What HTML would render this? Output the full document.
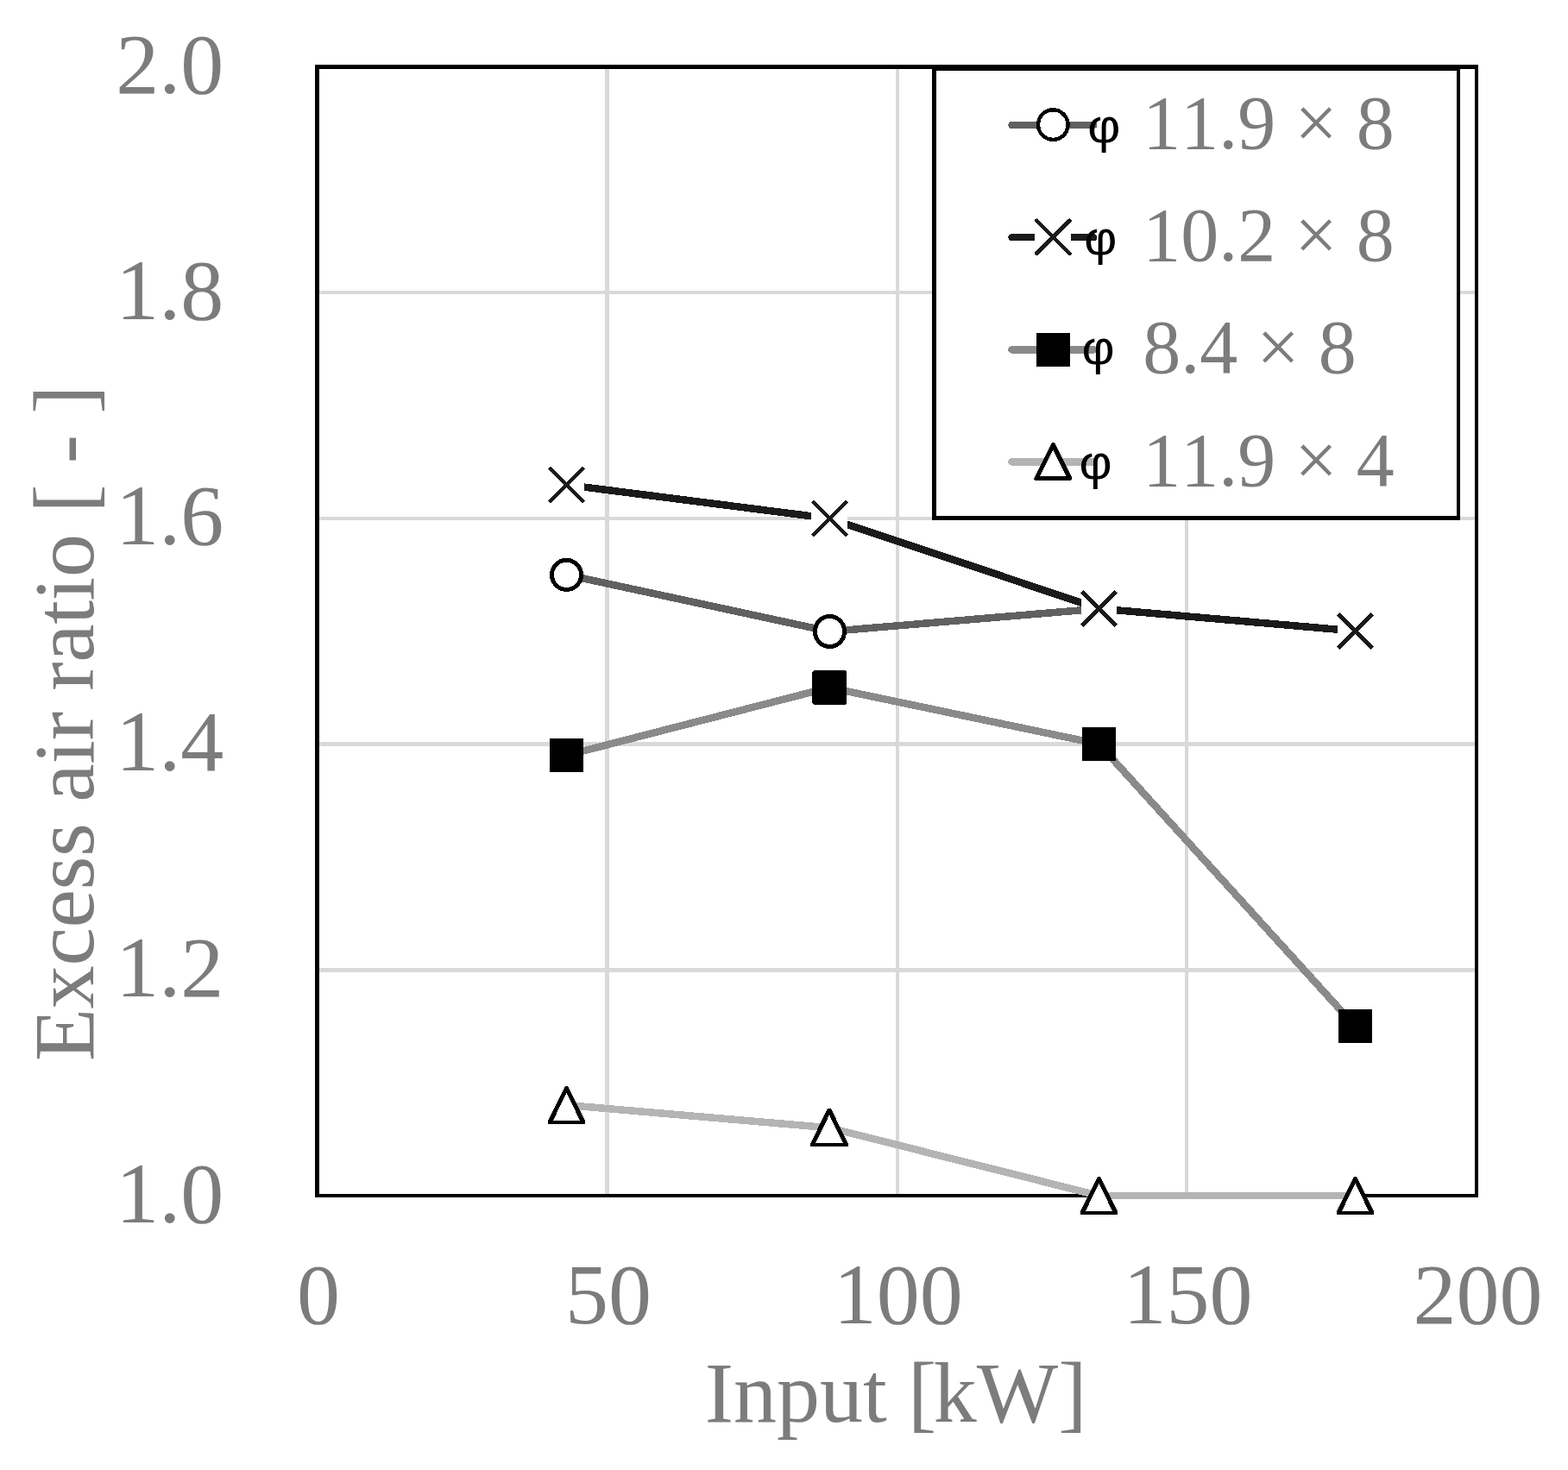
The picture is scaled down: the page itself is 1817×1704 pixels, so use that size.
<!DOCTYPE html>
<html lang="en">
<head>
<meta charset="utf-8">
<title>Excess air ratio vs. input</title>
<style>
html,body{margin:0;padding:0;background:#fff;}
body{width:1817px;height:1704px;overflow:hidden;}
svg{display:block;}
text{font-kerning:none;}
.t{font-family:'Liberation Serif', 'Times New Roman', serif;font-size:100px;fill:#7c7c7c;}
.l{font-family:'Liberation Serif', 'Times New Roman', serif;font-size:88px;fill:#7c7c7c;}
.p{font-family:'Liberation Sans', Arial, sans-serif;font-size:54.7px;fill:#000;}
</style>
</head>
<body>
<svg width="1817" height="1704" viewBox="0 0 1817 1704" role="img" aria-label="Excess air ratio versus input">
<rect x="0" y="0" width="1817" height="1704" fill="#fff"/>
<g fill="#d9d9d9" shape-rendering="crispEdges">
<rect x="370" y="337" width="1339" height="4"/>
<rect x="370" y="599" width="1339" height="4"/>
<rect x="370" y="860" width="1339" height="5"/>
<rect x="370" y="1122" width="1339" height="5"/>
<rect x="701" y="80" width="5" height="1304"/>
<rect x="1038" y="80" width="4" height="1304"/>
<rect x="1373" y="80" width="4" height="1304"/>
</g>
<g fill="#000" shape-rendering="crispEdges">
<rect x="365" y="75" width="1348" height="5"/>
<rect x="365" y="1384" width="1348" height="4"/>
<rect x="365" y="75" width="5" height="1313"/>
<rect x="1709" y="75" width="4" height="1313"/>
</g>
<g shape-rendering="crispEdges">
<polyline points="656.5,666.3 961.3,732 1273.5,705.6" fill="none" stroke="#606060" stroke-width="8.5" stroke-linejoin="round"/>
<circle cx="656.5" cy="666.3" r="17.05" fill="#fff" stroke="#000" stroke-width="4.9"/>
<ellipse cx="961.45" cy="732" rx="17.05" ry="17.55" fill="#fff" stroke="#000" stroke-width="4.9"/>
</g>
<g shape-rendering="crispEdges">
<polyline points="656.5,562 961.5,601 1273.5,705.5 1570.5,731.5" fill="none" stroke="#1a1a1a" stroke-width="8.5" stroke-linejoin="round"/>
<rect x="635" y="541" width="42" height="42" fill="#fff"/><path d="M636.6 542.1L676.4 581.9M636.6 581.9L676.4 542.1" fill="none" stroke="#1a1a1a" stroke-width="4.6"/>
<rect x="940" y="580" width="42" height="42" fill="#fff"/><path d="M941.6 581.1L981.4 620.9M941.6 620.9L981.4 581.1" fill="none" stroke="#1a1a1a" stroke-width="4.6"/>
<rect x="1253" y="685" width="41" height="41" fill="#fff"/><path d="M1253.6 685.6L1293.4 725.4M1253.6 725.4L1293.4 685.6" fill="none" stroke="#1a1a1a" stroke-width="4.6"/>
<rect x="1550" y="711" width="42" height="42" fill="#fff"/><path d="M1550.6 711.6L1590.4 751.4M1550.6 751.4L1590.4 711.6" fill="none" stroke="#1a1a1a" stroke-width="4.6"/>
</g>
<g shape-rendering="crispEdges">
<polyline points="656.5,875.5 961,797 1273.5,862.5 1570.5,1189.7" fill="none" stroke="#8a8a8a" stroke-width="8.5" stroke-linejoin="round"/>
<rect x="637" y="856" width="39" height="39" fill="#000"/>
<path d="M943 777H979L981 779V815L979 817H943L941 815V779Z" fill="#000"/>
<rect x="1254" y="843" width="39" height="39" fill="#000"/>
<rect x="1551" y="1170" width="39" height="39" fill="#000"/>
</g>
<g shape-rendering="crispEdges">
<rect x="1273.5" y="1382.2" width="297" height="7.3" fill="#b4b4b4"/>
<polyline points="656.5,1281 961,1307.3 1273.5,1386" fill="none" stroke="#b4b4b4" stroke-width="8.5" stroke-linejoin="round"/>
<path d="M654.9 1259L658.1 1259L678.1 1299.2L678.1 1303L634.9 1303L634.9 1299.2Z" fill="#000"/><path d="M656.5 1266.8L672.15 1299.1L640.85 1299.1Z" fill="#fff"/>
<path d="M959.4 1284.6L962.6 1284.6L982.6 1324.8L982.6 1328.6L939.4 1328.6L939.4 1324.8Z" fill="#000"/><path d="M961 1292.4L976.65 1324.7L945.35 1324.7Z" fill="#fff"/>
<path d="M1271.9 1364L1275.1 1364L1295.1 1404.2L1295.1 1408L1251.9 1408L1251.9 1404.2Z" fill="#000"/><path d="M1273.5 1371.8L1289.15 1404.1L1257.85 1404.1Z" fill="#fff"/>
<path d="M1568.9 1364L1572.1 1364L1592.1 1404.2L1592.1 1408L1548.9 1408L1548.9 1404.2Z" fill="#000"/><path d="M1570.5 1371.8L1586.15 1404.1L1554.85 1404.1Z" fill="#fff"/>
</g>
<g>
<rect x="1080" y="77" width="612" height="526" fill="#fff"/>
<g fill="#000" shape-rendering="crispEdges">
<rect x="1080" y="77" width="612" height="5"/>
<rect x="1080" y="598" width="612" height="5"/>
<rect x="1080" y="77" width="5" height="526"/>
<rect x="1688" y="77" width="4" height="526"/>
</g>
<g shape-rendering="crispEdges">
<line x1="1172.5" y1="144.9" x2="1267.3" y2="144.9" stroke="#606060" stroke-width="8.4" stroke-linecap="round"/>
<circle cx="1220.3" cy="144.6" r="17.25" fill="#fff" stroke="#000" stroke-width="4.4"/>
</g>
<text class="l"><tspan class="p" x="1260.35" y="165.4" textLength="38.12" lengthAdjust="spacingAndGlyphs">φ</tspan><tspan x="1302.2" y="172.4"> 11.9 × 8</tspan></text>
<g shape-rendering="crispEdges">
<line x1="1172.5" y1="275.2" x2="1267.3" y2="275.2" stroke="#1a1a1a" stroke-width="8.4" stroke-linecap="round"/>
<rect x="1199.3" y="253.9" width="42" height="42" fill="#fff"/><path d="M1201.3 255.9L1239.3 293.9M1201.3 293.9L1239.3 255.9" fill="none" stroke="#1a1a1a" stroke-width="4.8" stroke-linecap="round"/>
</g>
<text class="l"><tspan class="p" x="1256.35" y="295.4" textLength="38.12" lengthAdjust="spacingAndGlyphs">φ</tspan><tspan x="1302.2" y="302.1"> 10.2 × 8</tspan></text>
<g shape-rendering="crispEdges">
<line x1="1172.5" y1="405.4" x2="1267.3" y2="405.4" stroke="#8a8a8a" stroke-width="8.4" stroke-linecap="round"/>
<rect x="1201" y="386" width="39" height="39" fill="#000"/>
</g>
<text class="l"><tspan class="p" x="1253.45" y="422.4" textLength="38.12" lengthAdjust="spacingAndGlyphs">φ</tspan><tspan x="1302.2" y="432.4"> 8.4 × 8</tspan></text>
<g shape-rendering="crispEdges">
<line x1="1172.5" y1="535.4" x2="1267.3" y2="535.4" stroke="#b4b4b4" stroke-width="8.4" stroke-linecap="round"/>
<polygon points="1220.3,515.6 1239.8,554.6 1200.8,554.6" fill="#fff" stroke="#000" stroke-width="5" stroke-linejoin="round"/>
</g>
<text class="l"><tspan class="p" x="1250.45" y="554.6" textLength="38.12" lengthAdjust="spacingAndGlyphs">φ</tspan><tspan x="1302.2" y="562.8"> 11.9 × 4</tspan></text>
</g>
<g class="t" text-anchor="end">
<text x="259.3" y="107.8">2.0</text>
<text x="259.3" y="369.64">1.8</text>
<text x="259.3" y="631.48">1.6</text>
<text x="259.3" y="893.32">1.4</text>
<text x="259.3" y="1155.16">1.2</text>
<text x="259.3" y="1417">1.0</text>
</g>
<g class="t" text-anchor="middle">
<text x="369" y="1533.5">0</text>
<text x="704.88" y="1533.5">50</text>
<text x="1040.75" y="1533.5">100</text>
<text x="1376.62" y="1533.5">150</text>
<text x="1712.5" y="1533.5">200</text>
</g>
<text class="t" x="812.45" y="1647.7"><tspan dx="4.2">Input </tspan><tspan dx="-0.7">[</tspan><tspan dx="-3.5">kW]</tspan></text>
<text class="t" text-anchor="middle" letter-spacing="-0.37" transform="translate(107.5 838.3) rotate(-90)">Excess air ratio [ - ]</text>
</svg>
</body>
</html>
